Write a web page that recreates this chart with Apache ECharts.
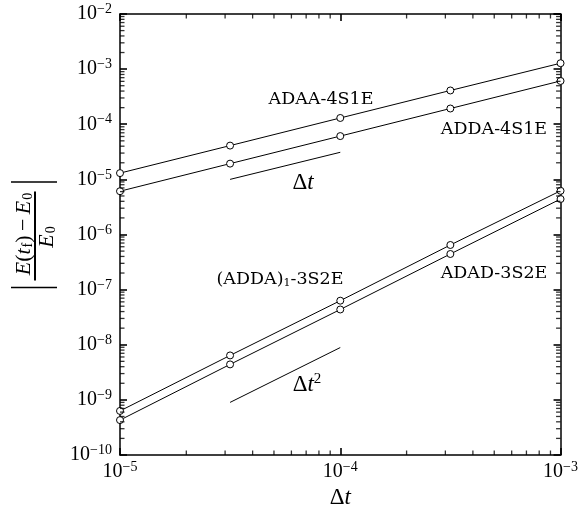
<!DOCTYPE html>
<html><head><meta charset="utf-8">
<script src="https://cdn.jsdelivr.net/npm/echarts@6/dist/echarts.min.js"></script>
<style>html,body{margin:0;padding:0;background:#fff}#c{width:581px;height:516px}</style>
</head><body><div id="c"></div>
<script>
// ---- data ----
const dt = [1e-5, 3.16e-5, 1e-4, 3.16e-4, 1e-3];
const adaa4s1e = [1.3e-5, 4.1e-5, 1.3e-4, 4.1e-4, 1.28e-3];
const adda4s1e = [6.1e-6, 1.93e-5, 6.1e-5, 1.93e-4, 6.1e-4];
const adda1_3s2e = [6.3e-10, 6.4e-9, 6.3e-8, 6.45e-7, 6.2e-6];
const adad3s2e = [4.3e-10, 4.4e-9, 4.36e-8, 4.43e-7, 4.4e-6];
const refX = [3.16e-5, 1e-4];
const refDtY = [1e-5, 3.1e-5];
const refDt2Y = [9e-10, 8.9e-9];
const xDecades = [1e-5, 1e-4];
const yDecades = [1e-10, 1e-9, 1e-8, 1e-7, 1e-6, 1e-5, 1e-4, 1e-3];
const minorMult = [2, 3, 4, 5, 6, 7, 8, 9];
const xLim = [1e-5, 1e-3];
const yLim = [1e-10, 1e-2];

const SERIF = 'Liberation Serif';
const pair = (xs, ys) => xs.map((x, i) => [x, ys[i]]);

const xMinorVals = [];
xDecades.forEach(d => minorMult.forEach(m => xMinorVals.push(d * m)));
const yMinorVals = [];
yDecades.forEach(d => minorMult.forEach(m => yMinorVals.push(d * m)));

function expLabel(v) {
  const e = Math.round(Math.log10(v));
  return '{b|10}{s|' + (e < 0 ? '\u2212' : '') + Math.abs(e) + '}';
}
const labelRich = {
  b: { fontFamily: SERIF, fontSize: 20, color: '#000' },
  s: { fontFamily: SERIF, fontSize: 14, color: '#000', padding: [0, 0, 9, 0] }
};

function axisX(pos, showLabel) {
  return {
    type: 'log', logBase: 10, min: xLim[0], max: xLim[1], interval: 1, position: pos,
    axisLine: { show: true, lineStyle: { color: '#000', width: 1.5 } },
    axisTick: { show: true, inside: true, length: 7, lineStyle: { color: '#000', width: 1.6 } },
    splitLine: { show: false },
    axisLabel: { show: showLabel, formatter: expLabel, rich: labelRich, margin: 5 },
    name: showLabel ? '{a|\u0394}{i|t}' : '', nameLocation: 'middle', nameGap: 30,
    nameTextStyle: { rich: {
      a: { fontFamily: SERIF, fontSize: 23, color: '#000' },
      i: { fontFamily: SERIF, fontSize: 23, fontStyle: 'italic', color: '#000' } } }
  };
}
function axisY(pos, showLabel) {
  return {
    type: 'log', logBase: 10, min: yLim[0], max: yLim[1], interval: 1, position: pos,
    axisLine: { show: true, lineStyle: { color: '#000', width: 1.5 } },
    axisTick: { show: true, inside: true, length: 7, lineStyle: { color: '#000', width: 1.6 } },
    splitLine: { show: false },
    axisLabel: { show: showLabel, formatter: expLabel, rich: labelRich, margin: 8 }
  };
}

function lineSeries(name, ys) {
  return {
    name: name, type: 'line', data: pair(dt, ys), symbol: 'circle', symbolSize: 7,
    itemStyle: { color: '#fff', borderColor: '#000', borderWidth: 1 },
    lineStyle: { color: '#000', width: 1 }, z: 3
  };
}
function refSeries(name, ys) {
  return { name: name, type: 'line', data: pair(refX, ys), symbol: 'none',
    lineStyle: { color: '#000', width: 1 } };
}
// minor log ticks drawn as small rect symbols on the frame edges
function tickSeries(data, size, offset) {
  return { type: 'scatter', data: data, symbol: 'rect', symbolSize: size, symbolOffset: offset,
    itemStyle: { color: '#000' }, clip: false, z: 4, silent: true };
}

const chart = echarts.init(document.getElementById('c'));
const txt = (x, y, text) => ({
  type: 'text', x: x, y: y, silent: true,
  style: { text: text, fontFamily: 'DejaVu Serif', fontSize: 17.5, fill: '#000',
    align: 'center', verticalAlign: 'middle', rich: {
      a: { fontFamily: SERIF, fontSize: 23, fill: '#000' },
      i: { fontFamily: SERIF, fontSize: 23, fontStyle: 'italic', fill: '#000' },
      p: { fontFamily: SERIF, fontSize: 15, fill: '#000', padding: [0, 0, 12, 0] },
      u: { fontFamily: 'DejaVu Serif', fontSize: 11, fill: '#000', padding: [8, 0, 0, 0] }
    } }
});

chart.setOption({
  animation: false,
  grid: { left: 120, right: 18, top: 14, bottom: 61 },
  xAxis: [axisX('bottom', true), axisX('top', false)],
  yAxis: [axisY('left', true), axisY('right', false)],
  series: [
    lineSeries('ADAA-4S1E', adaa4s1e),
    lineSeries('ADDA-4S1E', adda4s1e),
    lineSeries('(ADDA)1-3S2E', adda1_3s2e),
    lineSeries('ADAD-3S2E', adad3s2e),
    refSeries('dt', refDtY),
    refSeries('dt2', refDt2Y),
    tickSeries(xMinorVals.map(v => [v, yLim[0]]), [1.3, 4.5], [0, -2.25]),
    tickSeries(xMinorVals.map(v => [v, yLim[1]]), [1.3, 4.5], [0, 2.25]),
    tickSeries(yMinorVals.map(v => [xLim[0], v]), [4.5, 1.3], [2.25, 0]),
    tickSeries(yMinorVals.map(v => [xLim[1], v]), [4.5, 1.3], [-2.25, 0])
  ],
  graphic: [
    txt(321, 99, 'ADAA-4S1E'),
    txt(494, 129, 'ADDA-4S1E'),
    txt(280, 279, '(ADDA){u|1}-3S2E'),
    txt(494, 273, 'ADAD-3S2E'),
    txt(303, 183, '{a|\u0394}{i|t}'),
    txt(307, 385, '{a|\u0394}{i|t}{p|2}'),
    { type: 'group', x: 35, y: 236, rotation: Math.PI / 2, silent: true, children: [
      { type: 'text', x: 2, y: -11, style: { text: '{i|E}{n|(}{i|t}{s|f}{n|)\u2009\u2212\u2009}{i|E}{s|0}',
        align: 'center', verticalAlign: 'middle', rich: {
          i: { fontFamily: SERIF, fontSize: 22, fontStyle: 'italic', fill: '#000' },
          n: { fontFamily: SERIF, fontSize: 22, fill: '#000' },
          s: { fontFamily: SERIF, fontSize: 14, fill: '#000', padding: [8, 0, 0, 1] } } } },
      { type: 'text', x: -1, y: 12, style: { text: '{i|E}{s|0}',
        align: 'center', verticalAlign: 'middle', rich: {
          i: { fontFamily: SERIF, fontSize: 22, fontStyle: 'italic', fill: '#000' },
          s: { fontFamily: SERIF, fontSize: 14, fill: '#000', padding: [8, 0, 0, 1] } } } },
      { type: 'line', shape: { x1: -44.5, y1: 0, x2: 44.5, y2: 0 }, style: { stroke: '#000', lineWidth: 2 } },
      { type: 'line', shape: { x1: 54, y1: -24, x2: 54, y2: 22 }, style: { stroke: '#000', lineWidth: 1.5 } },
      { type: 'line', shape: { x1: -51.5, y1: -24, x2: -51.5, y2: 22 }, style: { stroke: '#000', lineWidth: 1.5 } }
    ] }
  ]
});
</script></body></html>
